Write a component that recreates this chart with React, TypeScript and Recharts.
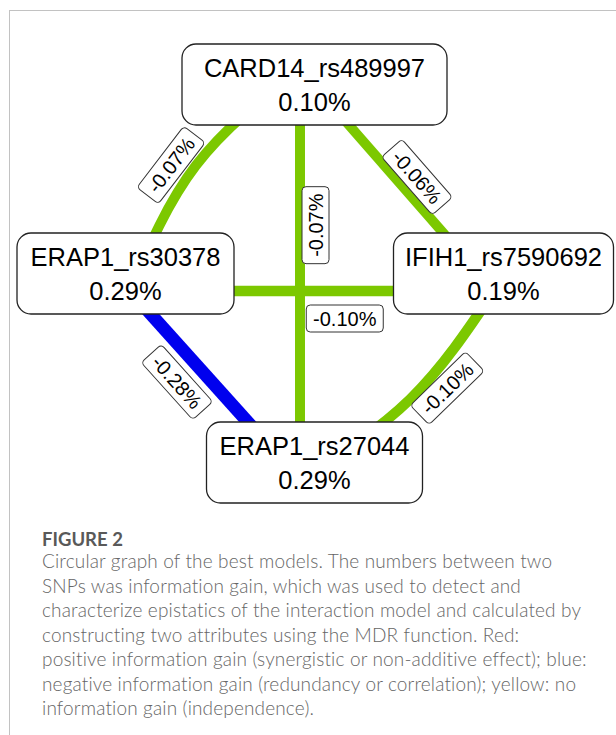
import React from "react";
import { ComposedChart, Line, Scatter, XAxis, YAxis } from "recharts";

// SNPs on the circle and their own information gain (%)
const snps = ["CARD14_rs489997", "ERAP1_rs30378", "IFIH1_rs7590692", "ERAP1_rs27044"];
const snpGain = [0.1, 0.29, 0.19, 0.29];
const snpAngle = [90, 180, 0, 270]; // place on the circle, degrees

// pairwise interactions (information gain, %)
const edgeFrom = [0, 0, 0, 1, 1, 2];
const edgeTo = [1, 2, 3, 2, 3, 3];
const edgeGain = [-0.07, -0.06, -0.07, -0.1, -0.28, -0.1];

const caption = [
  "Circular graph of the best models. The numbers between two",
  "SNPs was information gain, which was used to detect and",
  "characterize epistatics of the interaction model and calculated by",
  "constructing two attributes using the MDR function. Red:",
  "positive information gain (synergistic or non-additive effect); blue:",
  "negative information gain (redundancy or correlation); yellow: no",
  "information gain (independence).",
];

// layout / style
const W = 616;
const H = 520;
const CX = 314.5;
const CY = 273.5;
const R = 189;
const BOX_W = [265, 217, 220, 216];
const BOX_H = 81;
const PORT = [
  [-14.5, -15.5],
  [4.5, 17.5],
  [-9.5, 17.5],
  [-14.5, 17.5],
];
const EDGE_BEND = [24, 0, 0, 0, 0, -19];
const LABEL_T = [0.553, 0.537, 0.38, 0.59, 0.39, 0.374];
const LABEL_OFF = [44, -17, -15.5, 27.5, 26, -37];
const LABEL_W = 77;
const LABEL_H = 27;
const GREEN = "#7cc800";
const BLUE = "#0000ee";
const FONT = "'Liberation Sans', Arial, Helvetica, sans-serif";

const rad = (d: number) => (d * Math.PI) / 180;

const nodes = snps.map((name, i) => ({
  x: CX + R * Math.cos(rad(snpAngle[i])),
  y: CY - R * Math.sin(rad(snpAngle[i])),
  name,
  gain: snpGain[i],
  w: BOX_W[i],
}));

const port = (i: number) => ({ x: nodes[i].x + PORT[i][0], y: nodes[i].y + PORT[i][1] });

const edges = edgeGain.map((v, k) => {
  const a = port(edgeFrom[k]);
  const b = port(edgeTo[k]);
  const dx = b.x - a.x;
  const dy = b.y - a.y;
  const len = Math.hypot(dx, dy);
  const nx = -dy / len;
  const ny = dx / len;
  const bend = EDGE_BEND[k];
  const pts = bend
    ? [a, { x: (a.x + b.x) / 2 + nx * bend, y: (a.y + b.y) / 2 + ny * bend }, b]
    : [a, b];
  let angle = (Math.atan2(dy, dx) * 180) / Math.PI;
  if (angle > 90) angle -= 180;
  if (angle <= -90) angle += 180;
  const t = LABEL_T[k];
  const off = LABEL_OFF[k];
  return {
    pts,
    bend,
    color: v <= -0.2 ? BLUE : GREEN,
    width: 9 + 14 * Math.abs(v),
    label: {
      x: a.x + dx * t + nx * off,
      y: a.y + dy * t + ny * off,
      angle,
      text: `${v.toFixed(2)}%`,
    },
  };
});

const edgeLabels = edges.map((e) => e.label);

const NodeBox = (props: any) => {
  const { cx, cy, payload } = props;
  if (cx == null || cy == null) return <g />;
  const w = payload.w;
  return (
    <g>
      <rect
        x={cx - w / 2}
        y={cy - BOX_H / 2}
        width={w}
        height={BOX_H}
        rx={14}
        fill="#fff"
        stroke="#222"
        strokeWidth={1.3}
      />
      <text x={cx} y={cy - 8} textAnchor="middle" fontSize={25.5} fontFamily={FONT} fill="#000">
        {payload.name}
      </text>
      <text x={cx} y={cy + 26} textAnchor="middle" fontSize={25.5} fontFamily={FONT} fill="#000">
        {`${payload.gain.toFixed(2)}%`}
      </text>
    </g>
  );
};

const EdgeLabel = (props: any) => {
  const { cx, cy, payload } = props;
  if (cx == null || cy == null) return <g />;
  return (
    <g transform={`translate(${cx},${cy}) rotate(${payload.angle})`}>
      <rect
        x={-LABEL_W / 2}
        y={-LABEL_H / 2}
        width={LABEL_W}
        height={LABEL_H}
        rx={4}
        fill="#fff"
        stroke="#333"
        strokeWidth={1}
      />
      <text x={0} y={0} dy="0.36em" textAnchor="middle" fontSize={20} fontFamily={FONT} fill="#000">
        {payload.text}
      </text>
    </g>
  );
};

export default function App() {
  return (
    <div
      style={{
        position: "absolute",
        left: 0,
        top: 0,
        width: 616,
        height: 735,
        overflow: "hidden",
        background: "#fff",
      }}
    >
      <div
        style={{
          position: "absolute",
          left: 9,
          top: 10,
          width: 700,
          height: 800,
          borderLeft: "1px solid #c2c2c2",
          borderTop: "1px solid #c2c2c2",
        }}
      />
      <div style={{ position: "absolute", left: 0, top: 0 }}>
        <ComposedChart width={W} height={H} margin={{ top: 0, right: 0, bottom: 0, left: 0 }}>
          <XAxis type="number" dataKey="x" domain={[0, W]} allowDataOverflow hide />
          <YAxis type="number" dataKey="y" domain={[0, H]} reversed allowDataOverflow hide />
          {edges.map((e, k) => (
            <Line
              key={`edge-${k}`}
              data={e.pts}
              dataKey="y"
              type={e.bend ? "natural" : "linear"}
              stroke={e.color}
              strokeWidth={e.width}
              strokeLinecap="butt"
              dot={false}
              activeDot={false}
              isAnimationActive={false}
            />
          ))}
          <Scatter data={nodes} shape={<NodeBox />} isAnimationActive={false} />
          <Scatter data={edgeLabels} shape={<EdgeLabel />} isAnimationActive={false} />
        </ComposedChart>
      </div>
      <div
        style={{
          position: "absolute",
          left: 42,
          top: 527,
          fontFamily: "Lato, 'Open Sans', sans-serif",
          fontWeight: 700,
          fontSize: 18.5,
          color: "#595959",
          lineHeight: "24.5px",
          whiteSpace: "nowrap",
        }}
      >
        FIGURE 2
      </div>
      <div
        style={{
          position: "absolute",
          left: 42,
          top: 549,
          fontFamily: "Lato, 'Open Sans', sans-serif",
          fontWeight: 300,
          fontSize: 19,
          letterSpacing: "0.15px",
          color: "#666",
          lineHeight: "24.5px",
          whiteSpace: "nowrap",
        }}
      >
        {caption.map((line, i) => (
          <div key={i}>{line}</div>
        ))}
      </div>
    </div>
  );
}
